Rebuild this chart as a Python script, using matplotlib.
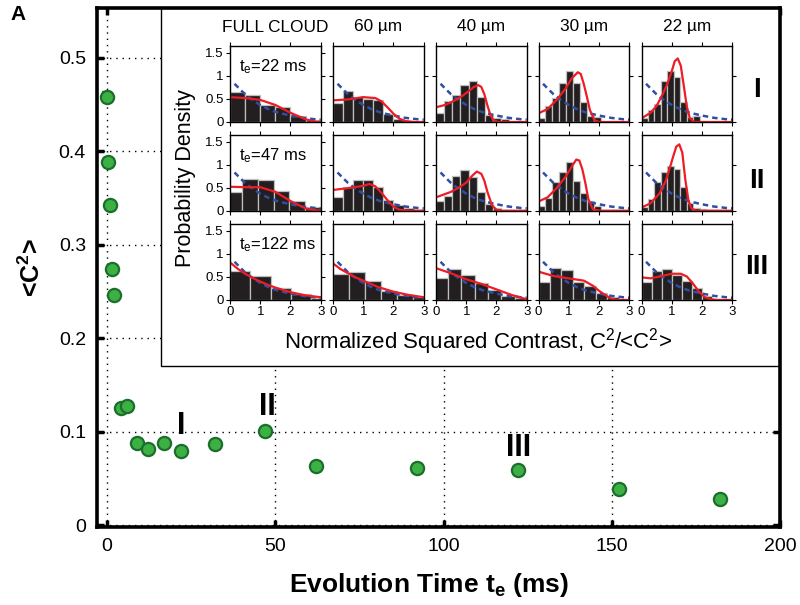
import numpy as np
import matplotlib
matplotlib.use("Agg")
import matplotlib.pyplot as plt
from matplotlib.patches import Rectangle

plt.rcParams['font.family'] = ['Liberation Sans', 'DejaVu Sans']
plt.rcParams['mathtext.fontset'] = 'custom'
plt.rcParams['mathtext.rm'] = 'Liberation Sans'
plt.rcParams['mathtext.it'] = 'Liberation Sans:italic'
plt.rcParams['mathtext.bf'] = 'Liberation Sans:bold'

# ---- main panel: mean squared contrast vs evolution time ----
T_E = [0, 0.3, 0.9, 1.5, 2.1, 4.1, 6.0, 8.8, 12.1, 17.0, 22.0, 32.1, 47.0, 62.1, 92.2, 122.1, 152.2, 182.1]
C2 = [0.458, 0.388, 0.342, 0.274, 0.246, 0.125, 0.127, 0.088, 0.081, 0.088, 0.079, 0.087, 0.1005,
      0.063, 0.061, 0.059, 0.039, 0.028]
C2_ERR = [0.005, 0.005, 0.004, 0.003, 0.003, 0.002, 0.002, 0.001, 0.001, 0.001, 0.001, 0.001, 0.001,
          0.001, 0.001, 0.001, 0.001, 0.001]
MARKS = [("I", 22.0, 0.106), ("II", 47.5, 0.126), ("III", 122.4, 0.082)]

# ---- inset: contrast histograms, rows = t_e, columns = probe region ----
COLS = ["FULL CLOUD", "60 µm", "40 µm", "30 µm", "22 µm"]
ROWS = ["I", "II", "III"]
TE_MS = ["22", "47", "122"]

BIN_W = [[0.5, 1 / 3, 0.27, 0.23, 0.214],
         [0.52, 1 / 3, 0.27, 0.23, 0.214],
         [0.67, 0.53, 0.44, 0.38, 1 / 3]]
BIN_X0 = [[0, 0, 0, 0, 0],
          [-0.12, 0, 0, 0, 0],
          [0, 0, -0.04, 0, 0]]

HIST_I = [[0.66, 0.58, 0.36, 0.33, 0.12, 0.05],
          [0.42, 0.67, 0.54, 0.50, 0.47, 0.17, 0.07, 0.03, 0.01],
          [0.20, 0.46, 0.59, 0.80, 0.88, 0.55, 0.15, 0.08, 0.07, 0.0, 0.0],
          [0.08, 0.35, 0.53, 0.84, 1.10, 0.84, 0.44, 0.14, 0.10, 0.0, 0.0, 0.0, 0.0],
          [0.08, 0.25, 0.38, 0.90, 1.10, 0.97, 0.44, 0.10, 0.13, 0.02, 0.0, 0.0, 0.0, 0.0]]
HIST_II = [[0.40, 0.68, 0.67, 0.43, 0.20, 0.07],
           [0.30, 0.52, 0.67, 0.67, 0.52, 0.23, 0.12, 0.05, 0.02],
           [0.21, 0.32, 0.76, 0.89, 0.74, 0.41, 0.15, 0.05, 0.0, 0.0, 0.0],
           [0.10, 0.28, 0.63, 0.85, 1.05, 0.64, 0.38, 0.20, 0.10, 0.0, 0.0, 0.0, 0.0],
           [0.08, 0.25, 0.62, 0.85, 0.98, 0.90, 0.51, 0.16, 0.05, 0.03, 0.01, 0.0, 0.0, 0.0]]
HIST_III = [[0.62, 0.53, 0.26, 0.13, 0.05],
            [0.57, 0.60, 0.42, 0.20, 0.11, 0.07],
            [0.48, 0.67, 0.55, 0.36, 0.22, 0.08, 0.04],
            [0.40, 0.69, 0.66, 0.40, 0.31, 0.16, 0.07, 0.03],
            [0.39, 0.63, 0.68, 0.55, 0.42, 0.26, 0.09, 0.03, 0.02]]

# model fits (red), (x, density)
FIT_I = [[(0, 0.54), (0.5, 0.52), (1, 0.48), (1.5, 0.37), (2, 0.2), (2.5, 0.06), (2.8, 0.01), (3, 0)],
         [(0, 0.47), (0.5, 0.49), (1, 0.54), (1.4, 0.52), (1.6, 0.45), (1.8, 0.32), (2.0, 0.18), (2.2, 0.07),
          (2.4, 0.02), (2.7, 0), (3, 0)],
         [(0, 0.32), (0.3, 0.37), (0.6, 0.46), (0.9, 0.58), (1.1, 0.68), (1.25, 0.76), (1.4, 0.80), (1.5, 0.76),
          (1.6, 0.6), (1.7, 0.36), (1.8, 0.15), (1.9, 0.04), (2.05, 0), (3, 0)],
         [(0, 0.19), (0.3, 0.28), (0.6, 0.48), (0.9, 0.73), (1.1, 0.95), (1.3, 1.08), (1.4, 1.04), (1.5, 0.82),
          (1.6, 0.55), (1.7, 0.26), (1.85, 0.04), (2.0, 0), (3, 0)],
         [(0, 0.08), (0.3, 0.2), (0.5, 0.35), (0.7, 0.6), (0.85, 0.82), (1.0, 1.1), (1.1, 1.32), (1.2, 1.38),
          (1.3, 1.22), (1.4, 0.78), (1.5, 0.33), (1.6, 0.08), (1.75, 0), (3, 0)]]
FIT_II = [[(0, 0.52), (0.5, 0.51), (1, 0.51), (1.5, 0.41), (2, 0.21), (2.5, 0.05), (2.8, 0.01), (3, 0)],
          [(0, 0.45), (0.5, 0.49), (1, 0.54), (1.2, 0.58), (1.4, 0.53), (1.6, 0.39), (1.8, 0.23), (2.0, 0.09),
           (2.2, 0.02), (2.5, 0), (3, 0)],
          [(0, 0.29), (0.5, 0.41), (0.8, 0.52), (1.0, 0.61), (1.2, 0.76), (1.35, 0.85), (1.5, 0.80), (1.6, 0.65),
           (1.7, 0.41), (1.85, 0.12), (2.0, 0.02), (2.2, 0), (3, 0)],
          [(0, 0.2), (0.3, 0.29), (0.6, 0.49), (0.9, 0.74), (1.1, 0.96), (1.25, 1.11), (1.35, 1.09), (1.45, 0.9),
           (1.55, 0.6), (1.65, 0.25), (1.8, 0.03), (2.0, 0), (3, 0)],
          [(0, 0.07), (0.3, 0.16), (0.6, 0.38), (0.8, 0.64), (0.95, 0.96), (1.05, 1.18), (1.15, 1.39),
           (1.25, 1.44), (1.35, 1.26), (1.45, 0.67), (1.55, 0.23), (1.65, 0.05), (1.8, 0), (3, 0)]]
FIT_III = [[(0.05, 0.79), (0.25, 0.68), (0.5, 0.57), (0.75, 0.48), (1, 0.40), (1.25, 0.33), (1.5, 0.27),
            (1.75, 0.22), (2, 0.17), (2.5, 0.10), (3, 0.06)],
           [(0.05, 0.77), (0.25, 0.67), (0.5, 0.58), (0.75, 0.49), (1, 0.42), (1.25, 0.35), (1.5, 0.28),
            (1.75, 0.23), (2, 0.18), (2.5, 0.11), (3, 0.06)],
           [(0.05, 0.68), (0.5, 0.58), (1, 0.45), (1.5, 0.35), (2, 0.23), (2.5, 0.11), (3, 0.015)],
           [(0.03, 0.61), (0.5, 0.52), (1, 0.47), (1.5, 0.42), (1.8, 0.31), (2.0, 0.2), (2.2, 0.11), (2.4, 0.03),
            (2.6, 0), (3, 0)],
           [(0.03, 0.49), (0.3, 0.47), (0.6, 0.51), (1.0, 0.57), (1.3, 0.57), (1.5, 0.51), (1.7, 0.36),
            (1.9, 0.18), (2.1, 0.06), (2.3, 0.015), (2.5, 0), (3, 0)]]

# exponential (speckle) reference, blue dashed -- same in every panel
BLUE_X = [0.15, 0.3, 0.5, 0.7, 1.0, 1.3, 1.6, 2.0, 2.4, 2.8, 3.0]
BLUE_Y = [0.83, 0.73, 0.60, 0.50, 0.37, 0.27, 0.20, 0.14, 0.09, 0.06, 0.05]

W, H = 800, 605
fig = plt.figure(figsize=(W / 100, H / 100), dpi=100)


def fx(px): return px / W
def fy(py): return 1 - py / H


ax = fig.add_axes([fx(97), fy(527), (780 - 97) / W, (527 - 8) / H])
ax.set_xlim(-3, 200)
ax.set_ylim(-0.002, 0.553)
ax.set_xticks([0, 50, 100, 150, 200])
ax.set_yticks([0, 0.1, 0.2, 0.3, 0.4, 0.5])
ax.set_yticklabels(["0", "0.1", "0.2", "0.3", "0.4", "0.5"])
ax.grid(True, ls=(0, (1, 3.5)), color="k", lw=1.0)
ax.tick_params(direction="in", length=5, width=2.5, top=True, right=True, labelsize=14, pad=8)
for s in ax.spines.values():
    s.set_linewidth(2.6)
    s.set_zorder(10)

ax.errorbar(T_E, C2, yerr=C2_ERR, fmt="o", ms=9.5, mfc="#3cb043", mec="#1b6e2c", mew=1.6,
            ecolor="#1b6e2c", elinewidth=2.5, capsize=3.5, capthick=2, zorder=4)
for lab, x, y in MARKS:
    ax.text(x, y, lab, ha="center", va="center", fontsize=22, fontweight="bold", zorder=6)

ax.set_xlabel("Evolution Time t$_\\mathbf{e}$ (ms)", fontsize=19, fontweight="bold")
ax.xaxis.set_label_coords(0.486, -0.085)
ax.set_ylabel("<C$^\\mathbf{2}$>", fontsize=18, fontweight="bold", labelpad=10)

# white inset frame over the upper right of the main panel
ax.add_patch(Rectangle(((161 - 97) / 683, (527 - 366) / 519), 1, 1, transform=ax.transAxes,
                       fc="white", ec="k", lw=1.0, zorder=5))

COL_L = [230, 333, 436, 538.5, 641.5]
ROW_B = [122, 210.7, 300]
PW, PH = 90.7, 76
HISTS = [HIST_I, HIST_II, HIST_III]
FITS = [FIT_I, FIT_II, FIT_III]

for r in range(3):
    for c in range(5):
        sa = fig.add_axes([fx(COL_L[c]), fy(ROW_B[r]), PW / W, PH / H])
        h = HISTS[r][c]
        w = BIN_W[r][c]
        lefts = [BIN_X0[r][c] + i * w for i in range(len(h))]
        sa.bar(lefts, h, width=w, align="edge", color="#231f20", edgecolor="0.75", lw=0.9)
        sa.plot(BLUE_X, BLUE_Y, color="#2e4fa3", lw=1.8, ls=(0, (2.2, 1.6)))
        fit = np.array(FITS[r][c])
        sa.plot(fit[:, 0], fit[:, 1], color="#ee1c24", lw=1.6, solid_joinstyle="round")
        sa.set_xlim(0, 3)
        sa.set_ylim(0, 1.65)
        sa.set_xticks([0, 1, 2, 3])
        if c == 0:
            sa.set_yticks([0, 0.5, 1, 1.5])
            sa.set_yticklabels(["0", "0.5", "1", "1.5"])
            sa.text(0.1, 0.73, "t$_\\mathrm{e}$=" + TE_MS[r] + " ms", transform=sa.transAxes,
                    fontsize=12, ha="left", va="center")
        else:
            sa.set_yticks([0, 1])
        sa.tick_params(direction="out", length=3, width=0.8, top=True, right=True, labelsize=9.5, pad=1.5,
                       labelleft=(c == 0), labelbottom=(r == 2))
        for s in sa.spines.values():
            s.set_linewidth(1.0)

for c, lab in enumerate(COLS):
    fig.text(fx(COL_L[c] + PW / 2), fy(27), lab, ha="center", va="center", fontsize=12.4)
for r, (lab, py) in enumerate(zip(ROWS, [90, 181, 267])):
    fig.text(fx(757), fy(py), lab, ha="center", va="center", fontsize=20, fontweight="bold")

fig.text(fx(185), fy(178), "Probability Density", rotation=90, ha="center", va="center", fontsize=15.5)
fig.text(fx(478), fy(342), "Normalized Squared Contrast, C$^2$/<C$^2$>", ha="center", va="center",
         fontsize=16)
fig.text(fx(18), fy(14), "A", ha="center", va="center", fontsize=15, fontweight="bold")

fig.savefig("out.png", dpi=100)
